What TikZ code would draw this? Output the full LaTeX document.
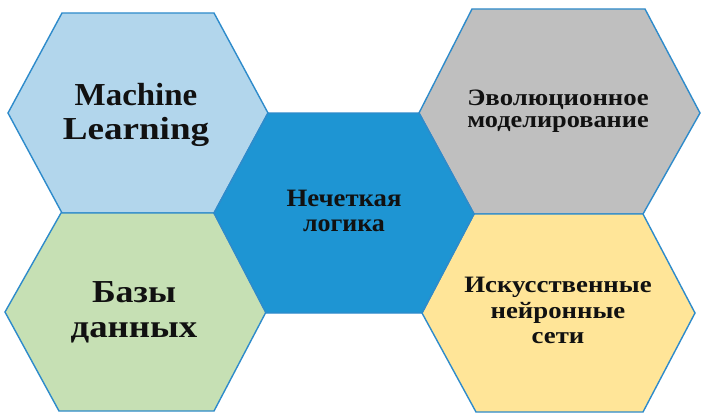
\documentclass[tikz,border=0pt]{standalone}
\usepackage{fontspec}
\setmainfont{Liberation Serif}
\definecolor{mlblue}{HTML}{B2D6EC}
\definecolor{dbgreen}{HTML}{C6E0B4}
\definecolor{fzblue}{HTML}{1E95D3}
\definecolor{evgray}{HTML}{BFBFBF}
\definecolor{nnyellow}{HTML}{FFE598}
\definecolor{edge}{HTML}{2E8BCB}
\definecolor{ink}{HTML}{111111}
\tikzset{
  hexa/.style={draw=edge, line width=1.4pt, line join=miter},
  bigtxt/.style={anchor=base, inner sep=0pt, text=ink, font=\fontsize{32}{34}\selectfont\bfseries},
  midtxt/.style={anchor=base, inner sep=0pt, text=ink, font=\fontsize{25}{26}\selectfont\bfseries},
  smtxt/.style={anchor=base, inner sep=0pt, text=ink, font=\fontsize{23.5}{25}\selectfont\bfseries},
}
\newcommand{\wide}[2]{\scalebox{#1}[1]{#2}}
\begin{document}
\begin{tikzpicture}[x=1pt,y=-1pt]
\useasboundingbox (0,0) rectangle (707,420);
\fill[white] (0,0) rectangle (707,420);
% hexagons
\draw[hexa, fill=mlblue] (8,113) -- (62,13) -- (214,13) -- (268,113) -- (214,213) -- (62,213) -- cycle;
\draw[hexa, fill=dbgreen] (5,312) -- (61,213) -- (214,213) -- (266,312) -- (214,411) -- (59,411) -- cycle;
\draw[hexa, fill=evgray] (419,113) -- (472,9) -- (645,9) -- (700,113) -- (643,214) -- (474,214) -- cycle;
\draw[hexa, fill=nnyellow] (422,313) -- (474,214) -- (643,214) -- (695,313) -- (643,412) -- (476,412) -- cycle;
\draw[hexa, fill=fzblue] (214,213) -- (268,113) -- (419,113) -- (474,214) -- (422,313) -- (266,313) -- cycle;
% texts
\node[bigtxt] (ml1) at (136,105) {\wide{1.03}{Machine}};
\node[bigtxt] (ml2) at (136,139) {\wide{1.16}{Learning}};
\node[bigtxt] (db1) at (134,302) {\wide{1.12}{Базы}};
\node[bigtxt] (db2) at (134,337) {\wide{1.15}{данных}};
\node[midtxt] (fz1) at (344,206) {\wide{1.07}{Нечеткая}};
\node[midtxt] (fz2) at (344,231) {\wide{1.04}{логика}};
\node[smtxt] (ev1) at (558,105) {\wide{1.14}{Эволюционное}};
\node[smtxt] (ev2) at (558,128) {\wide{1.12}{моделирование}};
\node[smtxt] (nn1) at (558,292) {\wide{1.14}{Искусственные}};
\node[smtxt] (nn2) at (558,318) {\wide{1.14}{нейронные}};
\node[smtxt] (nn3) at (558,343) {\wide{1.14}{сети}};
\end{tikzpicture}
\end{document}
